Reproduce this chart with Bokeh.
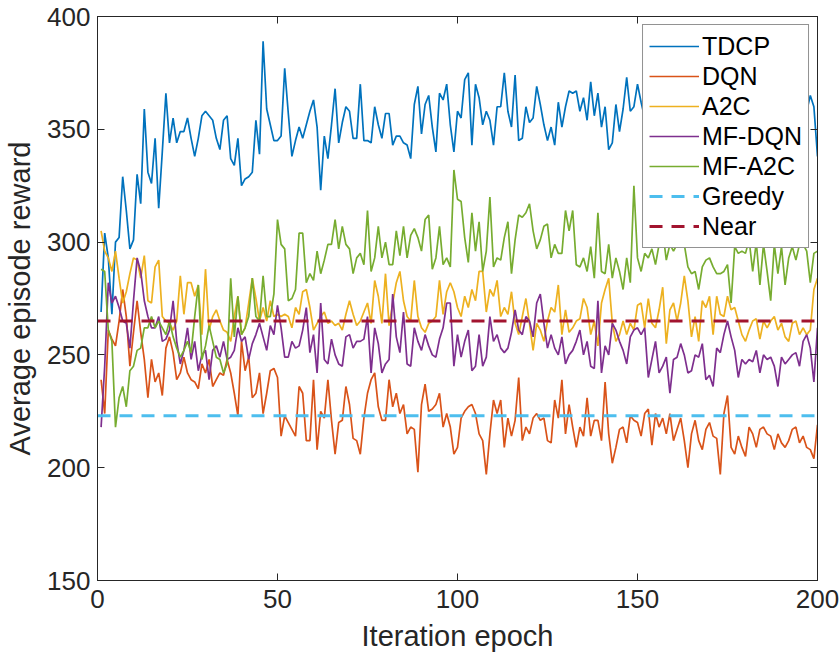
from bokeh.plotting import figure
from bokeh.models import LinearAxis, Legend, LegendItem, Range1d, FixedTicker
from bokeh.embed import file_html
from bokeh.resources import INLINE

epochs = list(range(1, 201))

tdcp = [269, 304, 293, 268, 300, 302, 329, 314, 297, 301, 330, 317, 359, 331, 326, 346, 315, 340, 366, 344,
        355, 344, 349, 349, 355, 346, 338, 346, 356, 358, 356, 354, 346, 341, 354, 356, 337, 334, 346, 325,
        328, 329, 331, 354, 339, 389, 359, 352, 345, 345,
        347, 377, 357, 338, 345, 351, 346, 352, 358, 363, 351, 323, 347, 337, 352, 368, 344, 353, 360, 358,
        346, 346, 370, 345, 345, 344, 360, 352, 346, 357, 357, 343, 347, 347, 344, 343, 337, 361, 369, 348,
        361, 365, 351, 340, 366, 363, 370, 352, 340, 358,
        355, 372, 375, 343, 370, 364, 352, 358, 354, 343, 360, 360, 375, 358, 351, 374, 345, 346, 360, 353,
        355, 369, 361, 352, 345, 351, 343, 362, 351, 360, 367, 366, 367, 358, 364, 354, 371, 356, 366, 351,
        360, 341, 344, 361, 349, 359, 373, 358, 360, 370,
        362, 355, 368, 350, 360, 372, 357, 348, 365, 361, 354, 370, 359, 346, 363, 367, 352, 358, 371, 356,
        349, 364, 360, 353, 368, 357, 362, 345, 359, 366, 355, 361, 370, 350, 358, 363, 347, 365, 356, 360,
        369, 352, 358, 364, 349, 361, 358, 365, 360, 338]

dqn = [239, 224, 261, 257, 254, 265, 279, 267, 245, 260, 274, 260, 248, 231, 248, 238, 242, 232, 253, 258, 251, 239, 242, 249, 242,
       239, 238, 235, 246, 242, 248, 236, 239, 242, 241, 248, 242, 233, 223, 256, 243, 249, 231, 233, 242, 224, 233, 243, 244, 240,
       214, 223, 220, 217, 214, 236, 233, 212, 212, 239, 208, 225, 222, 239, 221, 206, 220, 221, 236, 228, 213, 212, 206, 222, 233,
       239, 242, 227, 221, 221, 239, 227, 233, 224, 228, 215, 218, 217, 198, 228, 237, 225, 226, 228, 233, 218, 224, 218, 206, 209,
       222, 225, 227, 228, 224, 215, 212, 197, 215, 230, 224, 230, 209, 222, 214, 221, 240, 212, 218, 215, 222, 224, 221, 222, 212,
       211, 230, 222, 239, 215, 228, 218, 209, 218, 214, 231, 214, 221, 221, 212, 238, 215, 202, 209, 217, 218, 211, 223, 221, 220,
       214, 224, 226, 210, 224, 218, 222, 215, 224, 212, 217, 222, 212, 200, 215, 221, 212, 208, 217, 220, 214, 213, 197, 224, 232,
       209, 206, 214, 209, 205, 218, 215, 209, 217, 218, 215, 214, 208, 215, 211, 209, 212, 217, 218, 211, 214, 209, 208, 204, 219]

a2c = [305, 296, 293, 287, 296, 284, 273, 278, 286, 293, 292, 284, 294, 274, 273, 289, 292, 267, 265, 264, 261, 265, 285, 268, 282,
       282, 276, 281, 259, 288, 261, 267, 270, 265, 261, 260, 256, 267, 276, 259, 262, 273, 284, 275, 265, 271, 265, 274, 267, 268,
       267, 268, 267, 262, 271, 268, 278, 279, 271, 261, 264, 267, 269, 264, 265, 263, 264, 261, 268, 274, 268, 263, 265, 269, 273,
       264, 283, 276, 264, 286, 263, 273, 282, 287, 274, 267, 265, 283, 267, 262, 260, 264, 265, 267, 283, 268, 278, 282, 278, 271,
       267, 276, 271, 279, 274, 287, 287, 269, 279, 276, 283, 267, 271, 268, 278, 264, 259, 267, 275, 264, 252, 264, 261, 256, 265,
       271, 269, 281, 259, 270, 260, 262, 265, 266, 275, 271, 259, 265, 254, 273, 279, 284, 264, 256, 259, 265, 259, 264, 261, 272,
       273, 262, 275, 264, 262, 270, 280, 255, 270, 273, 265, 273, 285, 274, 258, 267, 256, 274, 271, 276, 259, 276, 268, 267, 276,
       270, 271, 265, 259, 256, 261, 265, 266, 257, 265, 262, 265, 267, 261, 264, 258, 256, 264, 265, 259, 262, 259, 261, 279, 284]

mf_dqn = [218, 245, 282, 273, 276, 271, 265, 264, 253, 274, 293, 287, 274, 267, 262, 262, 267, 256, 257, 261, 274, 256, 246, 252, 262,
          248, 256, 243, 250, 252, 239, 252, 254, 249, 256, 248, 249, 252, 262, 256, 258, 248, 255, 259, 264, 258, 252, 263, 259, 272,
          262, 249, 249, 256, 253, 254, 261, 271, 251, 259, 242, 273, 248, 246, 257, 250, 246, 245, 258, 259, 253, 256, 256, 257, 267,
          242, 262, 255, 242, 246, 248, 277, 258, 251, 269, 246, 245, 262, 256, 252, 259, 254, 250, 249, 257, 262, 273, 273, 245, 259,
          249, 256, 261, 243, 245, 259, 245, 249, 267, 256, 259, 253, 251, 253, 260, 270, 261, 259, 267, 265, 258, 273, 277, 264, 253,
          259, 253, 250, 258, 246, 250, 252, 256, 261, 250, 256, 245, 244, 274, 242, 254, 250, 264, 261, 256, 252, 246, 258, 261, 262,
          259, 262, 240, 248, 256, 242, 245, 249, 233, 248, 249, 255, 250, 242, 243, 250, 249, 255, 239, 241, 236, 253, 251, 259, 265,
          258, 252, 240, 248, 246, 248, 247, 252, 242, 250, 248, 249, 245, 236, 249, 246, 248, 250, 251, 245, 256, 259, 253, 238, 262]

mf_a2c = [288, 287, 261, 256, 218, 231, 236, 227, 243, 245, 252, 253, 262, 262, 267, 262, 265, 262, 259, 265, 258, 253, 249, 252, 256,
          251, 267, 281, 248, 254, 263, 256, 249, 248, 242, 246, 284, 258, 276, 259, 262, 267, 284, 267, 265, 285, 267, 267, 277, 310,
          299, 297, 274, 275, 279, 304, 304, 282, 286, 283, 296, 286, 292, 299, 299, 310, 297, 307, 299, 297, 286, 293, 295, 290, 314,
          287, 293, 307, 293, 300, 290, 290, 305, 294, 307, 293, 303, 306, 302, 296, 310, 312, 288, 293, 307, 290, 293, 289, 332, 319,
          318, 302, 291, 313, 296, 309, 287, 296, 320, 289, 293, 292, 302, 309, 286, 301, 312, 311, 313, 317, 305, 297, 301, 307, 308,
          293, 299, 295, 295, 314, 305, 314, 290, 289, 293, 287, 298, 284, 313, 287, 286, 299, 284, 293, 287, 279, 293, 282, 325, 293,
          287, 295, 293, 297, 290, 299, 305, 292, 299, 296, 299, 299, 299, 289, 286, 287, 279, 289, 292, 293, 289, 286, 286, 287, 290,
          273, 298, 295, 296, 295, 301, 287, 300, 281, 299, 287, 274, 299, 286, 298, 281, 293, 298, 292, 299, 299, 296, 282, 295, 296]

greedy_value = 223
near_value = 265
baseline_x = [0, 200]
x_ticks = [0, 50, 100, 150, 200]
y_ticks = [150, 200, 250, 300, 350, 400]

for s in (tdcp, dqn, a2c, mf_dqn, mf_a2c):
    assert len(s) == 200, len(s)

FONT = "Liberation Sans"
TXT = "#262626"

p = figure(width=840, height=655, output_backend="svg", toolbar_location=None,
           x_range=Range1d(0, 200), y_range=Range1d(150, 400),
           min_border_left=97, min_border_right=23, min_border_top=16, min_border_bottom=75)
p.background_fill_color = "white"
p.border_fill_color = "white"
p.outline_line_color = TXT
p.outline_line_width = 1
p.xgrid.visible = False
p.ygrid.visible = False

series = [("TDCP", tdcp, "#0072BD"), ("DQN", dqn, "#D95319"), ("A2C", a2c, "#EDB120"),
          ("MF-DQN", mf_dqn, "#7E2F8E"), ("MF-A2C", mf_a2c, "#77AC30")]
items = []
for name, ys, col in series:
    r = p.line(epochs, ys, line_color=col, line_width=1.7)
    items.append(LegendItem(label=name, renderers=[r]))

rg = p.line(baseline_x, [greedy_value, greedy_value], line_color="#4DBEEE", line_width=3, line_dash="13 9")
items.append(LegendItem(label="Greedy", renderers=[rg]))
rn = p.line(baseline_x, [near_value, near_value], line_color="#A2142F", line_width=3, line_dash="13 9")
items.append(LegendItem(label="Near", renderers=[rn]))

for ax in (p.xaxis[0], p.yaxis[0]):
    ax.major_label_text_font = FONT
    ax.major_label_text_font_size = "26px"
    ax.major_label_text_color = TXT
    ax.axis_label_text_font = FONT
    ax.axis_label_text_font_size = "29px"
    ax.axis_label_text_font_style = "normal"
    ax.axis_label_text_color = TXT
    ax.axis_line_color = TXT
    ax.major_tick_line_color = TXT
    ax.major_tick_in = 7
    ax.major_tick_out = 0
    ax.minor_tick_line_color = None

p.xaxis[0].ticker = FixedTicker(ticks=x_ticks)
p.yaxis[0].ticker = FixedTicker(ticks=y_ticks)
p.xaxis[0].axis_label = "Iteration epoch"
p.yaxis[0].axis_label = "Average episode reward"
p.xaxis[0].major_label_standoff = 9
p.yaxis[0].major_label_standoff = 7
p.xaxis[0].axis_label_standoff = 9
p.yaxis[0].axis_label_standoff = 8

right = LinearAxis(ticker=FixedTicker(ticks=y_ticks),
                   major_label_overrides={t: "" for t in y_ticks},
                   major_label_text_font_size="1px", major_tick_in=7, major_tick_out=0,
                   minor_tick_line_color=None, major_label_standoff=0,
                   axis_line_color=TXT, major_tick_line_color=TXT)
top = LinearAxis(ticker=FixedTicker(ticks=x_ticks),
                 major_label_overrides={t: "" for t in x_ticks},
                 major_label_text_font_size="1px", major_tick_in=7, major_tick_out=0,
                 minor_tick_line_color=None, major_label_standoff=0,
                 axis_line_color=TXT, major_tick_line_color=TXT)
p.add_layout(right, "right")
p.add_layout(top, "above")

legend = Legend(items=items, location="top_right")
legend.margin = 8
legend.padding = 6
legend.spacing = 0
legend.label_text_font = FONT
legend.label_text_font_size = "25px"
legend.label_text_color = "black"
legend.label_height = 30
legend.glyph_height = 30
legend.glyph_width = 50
legend.label_standoff = 3
legend.border_line_color = TXT
legend.border_line_width = 1
legend.background_fill_color = "white"
legend.background_fill_alpha = 1.0
p.add_layout(legend, "center")

open("out.html", "w").write(file_html(p, INLINE))
